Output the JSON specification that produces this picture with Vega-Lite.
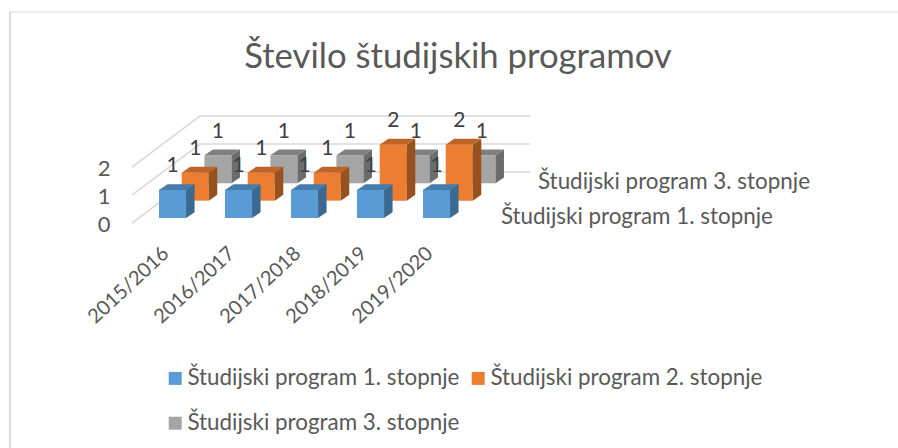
{
"$schema":"https://vega.github.io/schema/vega-lite/v6.json",
"width":898,"height":448,"padding":0,"autosize":{"type":"none"},
"background":"white",
"view":{"stroke":null},
"title":{"text":"Število študijskih programov","anchor":"middle","dx":9,"offset":-76,"fontSize":34.7,"font":"Lato","fontWeight":"normal","color":"#595959"},
"data":{"values":[
{"year":"2015/2016","series":"Študijski program 1. stopnje","value":1},
{"year":"2016/2017","series":"Študijski program 1. stopnje","value":1},
{"year":"2017/2018","series":"Študijski program 1. stopnje","value":1},
{"year":"2018/2019","series":"Študijski program 1. stopnje","value":1},
{"year":"2019/2020","series":"Študijski program 1. stopnje","value":1},
{"year":"2015/2016","series":"Študijski program 2. stopnje","value":1},
{"year":"2016/2017","series":"Študijski program 2. stopnje","value":1},
{"year":"2017/2018","series":"Študijski program 2. stopnje","value":1},
{"year":"2018/2019","series":"Študijski program 2. stopnje","value":2},
{"year":"2019/2020","series":"Študijski program 2. stopnje","value":2},
{"year":"2015/2016","series":"Študijski program 3. stopnje","value":1},
{"year":"2016/2017","series":"Študijski program 3. stopnje","value":1},
{"year":"2017/2018","series":"Študijski program 3. stopnje","value":1},
{"year":"2018/2019","series":"Študijski program 3. stopnje","value":1},
{"year":"2019/2020","series":"Študijski program 3. stopnje","value":1}
]},
"transform":[
{"calculate":"indexof(['2015/2016','2016/2017','2017/2018','2018/2019','2019/2020'],datum.year)","as":"i"},
{"calculate":"indexof(['Študijski program 1. stopnje','Študijski program 2. stopnje','Študijski program 3. stopnje'],datum.series)","as":"s"},
{"calculate":"datum.i*10+datum.s","as":"key"},
{"calculate":"datum.i+datum.s*0.344","as":"fx0"},
{"calculate":"datum.fx0+0.41","as":"fx1"},
{"calculate":"datum.s*0.62","as":"base"},
{"calculate":"datum.base+datum.value","as":"top"},
{"calculate":"[0,1]","as":"t"},
{"flatten":["t"]},
{"calculate":"datum.fx1+datum.t*0.129","as":"sx"},
{"calculate":"datum.top+datum.t*0.21","as":"sy1"},
{"calculate":"datum.base+datum.t*0.21","as":"sy0"},
{"calculate":"datum.fx0+datum.t*0.129","as":"tx0"},
{"calculate":"datum.fx1+datum.t*0.129","as":"tx1"},
{"calculate":"datum.fx0+0.205","as":"lx"},
{"calculate":"datum.top+0.84","as":"ly"}
],
"layer":[
{"data":{"values":[{}]},"mark":{"type":"rule","color":"#D9D9D9","strokeWidth":2},"encoding":{"x":{"datum":-2.258,"type":"quantitative","scale":{"domain":[-2.409,11.197],"nice":false,"zero":false},"axis":null},"y":{"datum":7.357,"type":"quantitative","scale":{"domain":[-8.214,7.786],"nice":false,"zero":false},"axis":null},"y2":{"datum":-8.214}}},
{"data":{"values":[{}]},"mark":{"type":"rule","color":"#D9D9D9","strokeWidth":1},"encoding":{"x":{"datum":-2.258,"type":"quantitative"},"x2":{"datum":11.197},"y":{"datum":7.357,"type":"quantitative"}}},
{"data":{"values":[{"v":0,"p":0},{"v":0,"p":1},{"v":0,"p":2},{"v":1,"p":0},{"v":1,"p":1},{"v":1,"p":2},{"v":2,"p":0},{"v":2,"p":1},{"v":2,"p":2}]},
 "transform":[{"calculate":"[-0.409,0.62,5.62][datum.p]","as":"gx"},{"calculate":"datum.v+[-0.18,1.64,1.64][datum.p]","as":"gy"}],
 "mark":{"type":"line","color":"#D9D9D9","strokeWidth":1.5},
 "encoding":{"x":{"field":"gx","type":"quantitative"},"y":{"field":"gy","type":"quantitative"},"detail":{"field":"v"},"order":{"field":"p"}}},
{"data":{"values":[{"v":0},{"v":1},{"v":2}]},
 "transform":[{"calculate":"-0.833","as":"lx"},{"calculate":"datum.v-0.25","as":"ly"}],
 "mark":{"type":"text","font":"Lato","fontSize":22,"color":"#595959","align":"center","baseline":"middle"},
 "encoding":{"x":{"field":"lx","type":"quantitative"},"y":{"field":"ly","type":"quantitative"},"text":{"field":"v"}}},

{"transform":[{"filter":"datum.s==2&&datum.t==0"}],"mark":{"type":"rect"},"encoding":{"x":{"field":"fx0","type":"quantitative"},"x2":{"field":"fx1"},"y":{"field":"top","type":"quantitative"},"y2":{"field":"base"},"color":{"field":"series","type":"nominal","scale":{"domain":["Študijski program 1. stopnje","Študijski program 2. stopnje","Študijski program 3. stopnje"],"range":["#5B9BD5","#ED7D31","#A5A5A5"]},"legend":{"orient":"none","legendX":164,"legendY":367,"columns":2,"direction":"horizontal","title":null,"symbolType":"square","symbolSize":169,"symbolStrokeWidth":0,"labelFont":"Lato","labelFontSize":22.4,"labelColor":"#595959","labelLimit":400,"rowPadding":22,"columnPadding":7,"labelOffset":1}}}},
{"transform":[{"filter":"datum.s==2"}],"mark":{"type":"area","fill":"#6C6C6C"},"encoding":{"x":{"field":"sx","type":"quantitative"},"y":{"field":"sy1","type":"quantitative"},"y2":{"field":"sy0"},"detail":{"field":"key","type":"nominal"}}},
{"transform":[{"filter":"datum.s==2"}],"mark":{"type":"area","orient":"horizontal","fill":"#7F7F7F"},"encoding":{"y":{"field":"sy1","type":"quantitative"},"x":{"field":"tx0","type":"quantitative"},"x2":{"field":"tx1"},"detail":{"field":"key","type":"nominal"}}},

{"transform":[{"filter":"datum.s==1&&datum.t==0"}],"mark":{"type":"rect"},"encoding":{"x":{"field":"fx0","type":"quantitative"},"x2":{"field":"fx1"},"y":{"field":"top","type":"quantitative"},"y2":{"field":"base"},"color":{"field":"series","type":"nominal"}}},
{"transform":[{"filter":"datum.s==1"}],"mark":{"type":"area","fill":"#97511F"},"encoding":{"x":{"field":"sx","type":"quantitative"},"y":{"field":"sy1","type":"quantitative"},"y2":{"field":"sy0"},"detail":{"field":"key","type":"nominal"}}},
{"transform":[{"filter":"datum.s==1"}],"mark":{"type":"area","orient":"horizontal","fill":"#BE6426"},"encoding":{"y":{"field":"sy1","type":"quantitative"},"x":{"field":"tx0","type":"quantitative"},"x2":{"field":"tx1"},"detail":{"field":"key","type":"nominal"}}},

{"transform":[{"filter":"datum.s==0&&datum.t==0"}],"mark":{"type":"rect"},"encoding":{"x":{"field":"fx0","type":"quantitative"},"x2":{"field":"fx1"},"y":{"field":"top","type":"quantitative"},"y2":{"field":"base"},"color":{"field":"series","type":"nominal"}}},
{"transform":[{"filter":"datum.s==0"}],"mark":{"type":"area","fill":"#3A6A92"},"encoding":{"x":{"field":"sx","type":"quantitative"},"y":{"field":"sy1","type":"quantitative"},"y2":{"field":"sy0"},"detail":{"field":"key","type":"nominal"}}},
{"transform":[{"filter":"datum.s==0"}],"mark":{"type":"area","orient":"horizontal","fill":"#457CAD"},"encoding":{"y":{"field":"sy1","type":"quantitative"},"x":{"field":"tx0","type":"quantitative"},"x2":{"field":"tx1"},"detail":{"field":"key","type":"nominal"}}},

{"transform":[{"filter":"datum.t==0"}],"mark":{"type":"text","font":"Lato","fontSize":21,"color":"#404040","align":"center","baseline":"middle"},"encoding":{"x":{"field":"lx","type":"quantitative"},"y":{"field":"ly","type":"quantitative"},"text":{"field":"value"}}},
{"transform":[{"filter":"datum.t==0&&datum.s==0"},{"calculate":"datum.i+0.106","as":"yx"},{"calculate":"-1.17","as":"yy"}],"mark":{"type":"text","font":"Lato","fontSize":20,"color":"#595959","align":"right","baseline":"middle","angle":-43},"encoding":{"x":{"field":"yx","type":"quantitative"},"y":{"field":"yy","type":"quantitative"},"text":{"field":"year"}}},
{"transform":[{"filter":"datum.t==0&&datum.s!=1&&datum.i==0"},{"calculate":"5.18+0.281*datum.s","as":"zx"},{"calculate":"0.036+0.625*datum.s","as":"zy"}],"mark":{"type":"text","font":"Lato","fontSize":22.4,"color":"#595959","align":"left","baseline":"middle"},"encoding":{"x":{"field":"zx","type":"quantitative"},"y":{"field":"zy","type":"quantitative"},"text":{"field":"series"}}}
]
}
